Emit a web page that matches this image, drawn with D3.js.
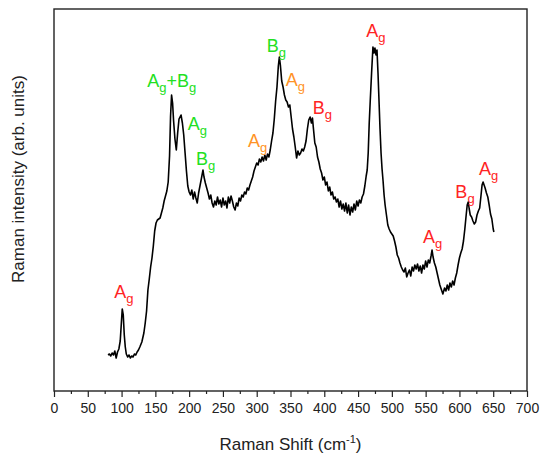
<!DOCTYPE html>
<html lang="en">
<head>
<meta charset="UTF-8">
<title>Raman Spectrum</title>
<style>
    body { margin: 0; background: #fff; }
    svg { font-family: "Liberation Sans", Arial, sans-serif; }
    .frame { fill: none; stroke: #222; stroke-width: 1.4; }
    .axis path { display: none; }
    .axis line { stroke: #222; stroke-width: 1.2; }
    .axis text { font-size: 14px; fill: #222; }
    .spectrum { fill: none; stroke: #000; stroke-width: 1.6; stroke-linejoin: round; }
</style>
</head>
<body>
<div id="chart"></div>

<script src="https://d3js.org/d3.v7.min.js"></script>
<script>
    // Raman shift (cm-1)
    const shift = [
        80, 82, 84, 86, 88, 90, 92, 94, 96, 98, 99.5, 101, 102.5, 104, 105.5, 107, 109, 111, 113, 115,
        117, 119, 121, 123, 125, 127, 130, 133, 135, 137, 139, 141, 143, 145, 147, 149, 151, 153, 155, 157,
        159, 161, 163, 165, 167, 169, 171, 172.5, 174, 175.5, 177, 179, 181, 183, 185, 188, 190, 192, 194, 196,
        198, 200, 202, 204, 206, 208, 210, 212, 214, 216, 218, 220.5, 222, 224, 226, 228, 230, 232, 234, 236,
        238, 240, 242, 244, 246, 248, 250, 252, 254, 256, 258, 260, 262, 264, 266, 268, 270, 272, 274, 276,
        278, 280, 282, 284, 286, 288, 290, 292, 294, 296, 298, 300, 302, 304, 306, 308, 310, 312, 314, 316,
        318, 320, 322, 324, 326, 328, 330, 332, 333.5, 335, 337, 339, 341, 343, 345, 347, 349, 351, 353, 355,
        357, 359, 361, 363, 365, 367, 369, 371, 373, 375, 377, 379, 381, 382.5, 384, 386, 388, 390, 392, 394,
        396, 398, 400, 402, 404, 406, 408, 410, 412, 414, 416, 418, 420, 422, 424, 426, 428, 430, 432, 434,
        436, 438, 440, 442, 444, 446, 448, 450, 452, 454, 456, 458, 460, 462, 463.5, 465, 466.5, 468, 470, 472,
        473.5, 475, 476.5, 478, 479.5, 481, 482.5, 484, 485.5, 487, 488.5, 490, 492, 494, 496, 498, 500, 502, 504, 506,
        508, 510, 512, 514, 516, 518, 520, 522, 524, 526, 528, 530, 532, 534, 536, 538, 540, 542, 544, 546,
        548, 550, 552, 554, 556, 558, 559.5, 561, 563, 565, 567, 569, 571, 573, 575.5, 578, 580, 582, 584, 586,
        588, 590, 592, 594, 596, 598, 600, 602, 604, 606, 608, 610, 611.5, 613, 614.5, 616, 618, 620, 622, 624,
        626, 628, 630, 632, 633.5, 635, 636.5, 638, 640, 642, 644, 646, 648, 650, 651
    ];

    // Raman intensity (arb. units)
    const intensity = [
        36, 37, 35, 38, 36, 40, 33, 39, 42, 50, 66, 82, 76, 56, 44, 37, 34, 36, 33, 35,
        34, 37, 36, 39, 41, 44, 49, 58, 68, 80, 101, 112, 124, 133, 145, 160, 168, 171, 172, 173,
        178, 183, 190, 195, 200, 209, 235, 275, 296, 288, 270, 252, 241, 258, 272, 276, 268, 256, 238, 220,
        205, 199, 196, 201, 192, 199, 193, 188, 198, 205, 212, 221, 214, 208, 203, 198, 192, 196, 188, 184,
        190, 186, 194, 187, 191, 184, 193, 186, 190, 183, 194, 188, 195, 190, 184, 181, 188, 185, 193, 190,
        196, 194, 199, 197, 203, 201, 206, 210, 214, 220, 224, 228, 226, 232, 229, 234, 230, 236, 231, 237,
        234, 241, 250, 258, 272, 290, 304, 325, 334, 326, 310, 304, 296, 291, 289, 284, 286, 274, 262, 254,
        244, 233, 240, 236, 238, 242, 240, 244, 250, 262, 271, 274, 268, 273, 262, 248, 244, 234, 229, 222,
        218, 211, 214, 206, 209, 200, 204, 196, 199, 192, 194, 189, 192, 184, 190, 182, 187, 180, 188, 178,
        186, 176, 184, 179, 187, 181, 190, 185, 191, 188, 194, 197, 205, 215, 221, 238, 268, 290, 318, 344,
        338, 343, 336, 341, 318, 290, 262, 238, 222, 210, 196, 186, 176, 166, 162, 159, 157, 155, 150, 144,
        136, 133, 128, 124, 121, 119, 123, 114, 118, 121, 115, 124, 120, 126, 122, 127, 120, 125, 118, 126,
        122, 130, 124, 131, 128, 135, 141, 134, 128, 124, 118, 112, 106, 102, 97, 103, 100, 106, 101, 108,
        104, 110, 106, 113, 118, 126, 133, 138, 142, 150, 162, 176, 186, 189, 182, 176, 174, 170, 167, 169,
        176, 180, 183, 196, 206, 209, 206, 203, 198, 194, 186, 177, 172, 162, 159
    ];

    // peak assignments ("_" marks a subscript)
    const peakLabels = ["A_g", "A_g+B_g", "A_g", "B_g", "A_g", "B_g", "A_g", "B_g", "A_g", "A_g", "B_g", "A_g"];
    const peakPhase = ["c", "a", "a", "a", "b", "a", "b", "c", "c", "c", "c", "c"];
    const labelShift = [89, 138, 198, 210, 287, 315, 343, 383, 462, 546, 594, 629];
    const labelHeight = [93, 304, 261, 226, 244, 339, 305, 277, 354, 148, 193, 216];

    const xTicks = d3.range(0, 701, 50);
    const xMinorTicks = d3.range(25, 700, 50);

    const margin = { top: 9, right: 14, bottom: 66, left: 54 };
    const width = 541 - margin.left - margin.right;
    const height = 457 - margin.top - margin.bottom;

    const phaseColor = d3.scaleOrdinal()
        .domain(["a", "b", "c"])
        .range(["#22e022", "#ff9326", "#ff2424"]);

    const x = d3.scaleLinear().domain([0, 700]).range([0, width]);
    const y = d3.scaleLinear().domain([0, 382]).range([height, 0]);

    const svg = d3.select('#chart')
        .append('svg')
        .attr('width', 541)
        .attr('height', 457)
        .append('g')
        .attr('transform', `translate(${margin.left},${margin.top})`);

    // x axis: labelled major ticks and short minor ticks
    svg.append('g')
        .attr('class', 'axis')
        .attr('transform', `translate(0,${height})`)
        .call(d3.axisBottom(x).tickValues(xTicks).tickSize(6).tickPadding(6));

    svg.append('g')
        .attr('class', 'axis')
        .attr('transform', `translate(0,${height})`)
        .call(d3.axisBottom(x).tickValues(xMinorTicks).tickSize(3).tickFormat(''));

    // spectrum
    const line = d3.line()
        .x((d, i) => x(shift[i]))
        .y(d => y(d));

    svg.append('path')
        .datum(intensity)
        .attr('class', 'spectrum')
        .attr('d', line);

    // frame
    svg.append('rect')
        .attr('class', 'frame')
        .attr('width', width)
        .attr('height', height);

    // peak labels with subscripts
    peakLabels.forEach((label, i) => {
        const t = svg.append('text')
            .attr('x', x(labelShift[i]))
            .attr('y', y(labelHeight[i]))
            .attr('fill', phaseColor(peakPhase[i]))
            .style('font-size', '18px');
        const parts = label.split(/(_.)/).filter(p => p !== '');
        let down = false;
        parts.forEach(p => {
            if (p[0] === '_') {
                t.append('tspan').attr('dy', 5).style('font-size', '13px').text(p.slice(1));
                down = true;
            } else {
                t.append('tspan').attr('dy', down ? -5 : 0).text(p);
                down = false;
            }
        });
    });

    // axis titles
    const xTitle = svg.append('text')
        .attr('x', width / 2)
        .attr('y', height + 59)
        .attr('text-anchor', 'middle')
        .style('font-size', '17px')
        .attr('fill', '#222');
    xTitle.append('tspan').text('Raman Shift (cm');
    xTitle.append('tspan').attr('dy', -7).style('font-size', '11px').text('-1');
    xTitle.append('tspan').attr('dy', 7).text(')');

    svg.append('text')
        .attr('transform', `translate(${-30},${179 - margin.top}) rotate(-90)`)
        .attr('text-anchor', 'middle')
        .style('font-size', '17px')
        .attr('fill', '#222')
        .text('Raman intensity (arb. units)');
</script>
</body>
</html>
